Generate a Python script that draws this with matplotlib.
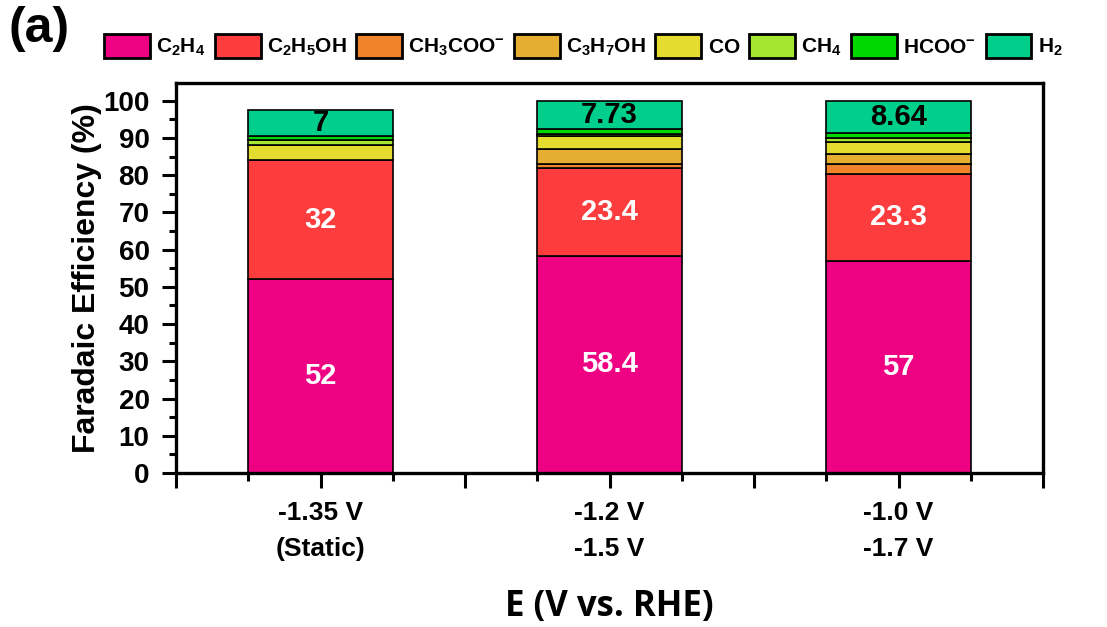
import numpy as np
import matplotlib.pyplot as plt
from matplotlib.ticker import MultipleLocator

# Data (Faradaic efficiency, %)
potentials = ['-1.35 V\n(Static)', '-1.2 V\n-1.5 V', '-1.0 V\n-1.7 V']
products = [r'$\mathbf{C_2H_4}$', r'$\mathbf{C_2H_5OH}$', r'$\mathbf{CH_3COO^{-}}$',
            r'$\mathbf{C_3H_7OH}$', r'$\mathbf{CO}$', r'$\mathbf{CH_4}$',
            r'$\mathbf{HCOO^{-}}$', r'$\mathbf{H_2}$']
c2h4 = [52, 58.4, 57]
c2h5oh = [32, 23.4, 23.3]
ch3coo = [0, 1.2, 2.6]
c3h7oh = [0, 3.9, 2.7]
co = [4.2, 3.5, 3.3]
ch4 = [1.2, 0.7, 1.2]
hcoo = [1.0, 1.17, 1.26]
h2 = [7, 7.73, 8.64]

series = [c2h4, c2h5oh, ch3coo, c3h7oh, co, ch4, hcoo, h2]
colors = ['#EE0283', '#FD3D3D', '#F0842A', '#E5AE30', '#E5DC30', '#A5E632', '#00D900', '#00CF8B']
labelled = {0: 'white', 1: 'white', 7: 'black'}

plt.rcParams['font.family'] = 'Liberation Sans'
plt.rcParams['font.weight'] = 'bold'
plt.rcParams['mathtext.fontset'] = 'custom'
plt.rcParams['mathtext.bf'] = 'Liberation Sans:bold'
plt.rcParams['mathtext.rm'] = 'Liberation Sans:bold'

fig = plt.figure(figsize=(11.07, 6.27), dpi=100)
ax = fig.add_axes([0.159, 0.2456, 0.7832, 0.622])

x = np.arange(1, len(potentials) + 1)
bottom = np.zeros(len(potentials))
handles = []
for i, vals in enumerate(series):
    vals = np.array(vals, dtype=float)
    bars = ax.bar(x, vals, 0.5, bottom=bottom, color=colors[i],
                  edgecolor='black', linewidth=1.2, label=products[i])
    handles.append(bars)
    if i in labelled:
        for xi, b, v in zip(x, bottom, vals):
            ax.text(xi, b + v / 2, f'{v:g}', ha='center', va='center',
                    color=labelled[i], fontsize=21, fontweight='bold')
    bottom += vals

ax.set_xlim(0.5, len(potentials) + 0.5)
ax.set_ylim(0, 104.75)

ticks = np.arange(0.5, len(potentials) + 0.51, 0.5)
ax.set_xticks(ticks)
ax.set_xticklabels([potentials[int(t) - 1] if float(t).is_integer() else '' for t in ticks],
                   fontsize=19, fontweight='bold', linespacing=1.65)
ax.xaxis.set_minor_locator(MultipleLocator(0.25))
ax.yaxis.set_major_locator(MultipleLocator(10))
ax.yaxis.set_minor_locator(MultipleLocator(5))
for lab in ax.get_yticklabels():
    lab.set_fontsize(20)
    lab.set_fontweight('bold')

ax.tick_params(axis='both', which='major', direction='out', width=2.2, length=10)
ax.tick_params(axis='x', which='major', length=11, pad=9)
ax.tick_params(axis='y', which='major', pad=9)
ax.tick_params(axis='both', which='minor', direction='out', width=2.2, length=5)
ax.tick_params(axis='x', which='minor', length=6)
for s in ax.spines.values():
    s.set_linewidth(2.4)

ax.set_ylabel('Faradaic Efficiency (%)', fontsize=23, fontweight='bold', labelpad=1)
ax.set_xlabel('E (V vs. RHE)', fontsize=25, fontweight='bold',
              family='Open Sans', labelpad=20)

fig.legend(handles=handles, loc='center left', bbox_to_anchor=(0.094, 0.926),
           ncol=len(products), frameon=False, fontsize=15,
           handlelength=2.2, handleheight=1.35, handletextpad=0.3,
           columnspacing=0.45, borderpad=0, borderaxespad=0)
for p in fig.legends[0].get_patches():
    p.set_linewidth(2)

fig.text(0.008, 0.99, '(a)', fontsize=36, fontweight='bold', va='top', ha='left')

plt.savefig('out.png', dpi=100)
